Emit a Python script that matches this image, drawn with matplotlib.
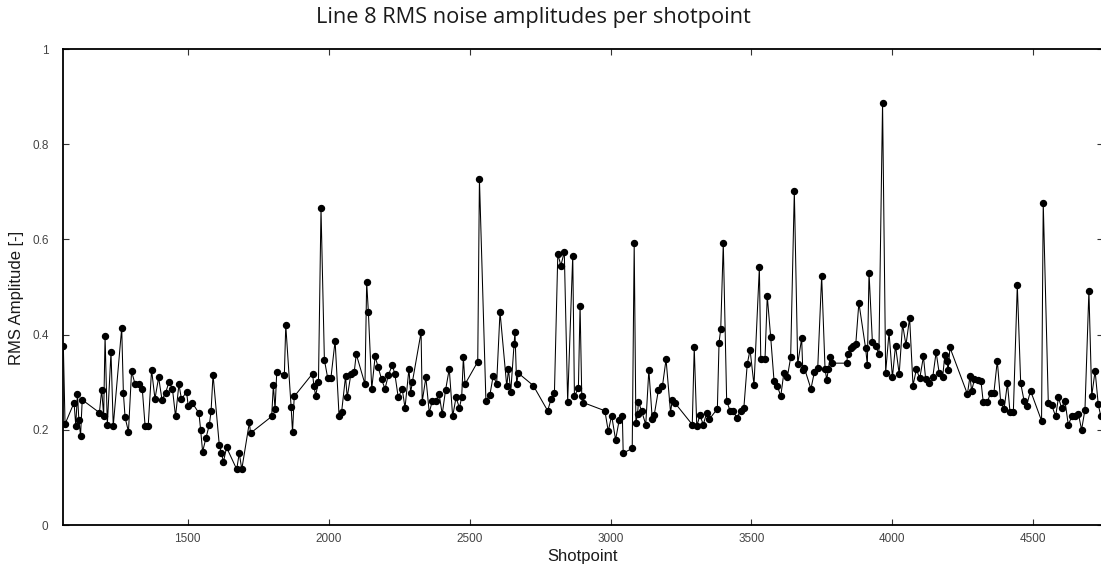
import matplotlib
matplotlib.use("Agg")
import matplotlib.pyplot as plt

# ---- data ----
shotpoints = [
    1059, 1065, 1097, 1103, 1109, 1114, 1120, 1126, 1187, 1195, 1202, 1207, 1215, 1228, 1236,
    1266, 1272, 1278, 1290, 1301, 1313, 1327, 1339, 1349, 1360, 1372, 1384, 1397, 1409, 1422,
    1434, 1446, 1457, 1469, 1478, 1496, 1502, 1517, 1540, 1546, 1553, 1565, 1577, 1583, 1590,
    1612, 1619, 1627, 1638, 1674, 1683, 1692, 1719, 1723, 1798, 1804, 1810, 1816, 1843, 1848,
    1867, 1872, 1878, 1943, 1948, 1954, 1964, 1973,
    1985, 1997, 2008, 2023, 2037, 2046, 2060, 2066, 2079, 2091, 2098, 2129, 2135, 2141, 2153,
    2165, 2176, 2188, 2200, 2212, 2226, 2235, 2247, 2261, 2271, 2285, 2291, 2297, 2328, 2332,
    2345, 2357, 2368, 2380, 2392, 2403, 2415, 2428, 2440, 2452, 2464, 2472, 2478, 2484, 2529,
    2535, 2558, 2572, 2584, 2596, 2608, 2632, 2638, 2646, 2658, 2661, 2667, 2673, 2726, 2777,
    2789, 2801, 2813, 2824, 2836, 2848, 2866, 2872, 2886, 2892, 2898, 2904,
    2980, 2992, 3004, 3018, 3031, 3042, 3045, 3077, 3084, 3090, 3096, 3099, 3110, 3125, 3136,
    3148, 3155, 3170, 3184, 3197, 3213, 3219, 3229, 3290, 3297, 3306, 3317, 3329, 3341, 3350,
    3379, 3385, 3391, 3400, 3412, 3424, 3436, 3447, 3462, 3473, 3485, 3495, 3509, 3528, 3533,
    3548, 3556, 3568, 3580, 3592, 3604, 3615, 3627, 3639, 3652, 3664, 3678, 3682, 3688, 3711,
    3723, 3735, 3749, 3761, 3767, 3773, 3779, 3784,
    3838, 3841, 3853, 3861, 3870, 3881, 3905, 3911, 3917, 3929, 3941, 3952, 3965, 3976, 3988,
    4000, 4011, 4024, 4036, 4048, 4061, 4073, 4085, 4097, 4110, 4118, 4131, 4143, 4155, 4166,
    4178, 4186, 4192, 4198, 4204, 4266, 4275, 4281, 4291, 4302, 4314, 4322, 4337, 4348, 4360,
    4372, 4384, 4396, 4408, 4417, 4429, 4443, 4455, 4467, 4476, 4490, 4529, 4535, 4553, 4565,
    4579, 4589, 4600, 4612, 4624, 4636, 4648, 4660, 4671, 4683, 4697, 4707, 4719, 4730, 4739,
]

rms_amplitude = [
    0.376, 0.212, 0.257, 0.209, 0.276, 0.221, 0.188, 0.263, 0.236, 0.284, 0.230, 0.397, 0.210, 0.363, 0.208,
    0.414, 0.277, 0.226, 0.196, 0.323, 0.297, 0.297, 0.286, 0.208, 0.208, 0.326, 0.265, 0.310, 0.263, 0.278,
    0.301, 0.286, 0.228, 0.296, 0.264, 0.280, 0.250, 0.256, 0.235, 0.200, 0.154, 0.183, 0.211, 0.239, 0.316,
    0.169, 0.152, 0.133, 0.163, 0.117, 0.151, 0.117, 0.216, 0.193, 0.228, 0.294, 0.243, 0.321, 0.316, 0.420,
    0.248, 0.195, 0.270, 0.318, 0.291, 0.272, 0.301, 0.665,
    0.347, 0.308, 0.308, 0.387, 0.230, 0.237, 0.312, 0.268, 0.317, 0.322, 0.359, 0.296, 0.510, 0.448, 0.286,
    0.354, 0.331, 0.306, 0.286, 0.315, 0.336, 0.317, 0.268, 0.286, 0.246, 0.328, 0.278, 0.300, 0.405, 0.259,
    0.310, 0.236, 0.261, 0.261, 0.275, 0.233, 0.284, 0.328, 0.228, 0.268, 0.246, 0.268, 0.352, 0.296, 0.343,
    0.727, 0.261, 0.273, 0.314, 0.296, 0.448, 0.291, 0.328, 0.279, 0.380, 0.406, 0.296, 0.319, 0.293, 0.240,
    0.264, 0.277, 0.569, 0.545, 0.574, 0.259, 0.566, 0.271, 0.287, 0.461, 0.271, 0.257,
    0.240, 0.197, 0.230, 0.179, 0.221, 0.228, 0.151, 0.161, 0.592, 0.214, 0.233, 0.259, 0.240, 0.211, 0.326,
    0.223, 0.231, 0.284, 0.291, 0.348, 0.236, 0.263, 0.256, 0.211, 0.373, 0.207, 0.231, 0.211, 0.235, 0.222,
    0.244, 0.383, 0.412, 0.592, 0.261, 0.240, 0.240, 0.225, 0.240, 0.246, 0.338, 0.368, 0.294, 0.541, 0.349,
    0.348, 0.481, 0.396, 0.303, 0.291, 0.271, 0.320, 0.310, 0.352, 0.702, 0.338, 0.392, 0.326, 0.329, 0.286,
    0.321, 0.329, 0.523, 0.328, 0.305, 0.328, 0.352, 0.340,
    0.340, 0.359, 0.371, 0.376, 0.380, 0.467, 0.371, 0.336, 0.530, 0.384, 0.376, 0.359, 0.886, 0.320, 0.405,
    0.310, 0.377, 0.317, 0.422, 0.378, 0.435, 0.293, 0.327, 0.308, 0.354, 0.306, 0.298, 0.310, 0.363, 0.319,
    0.310, 0.357, 0.345, 0.326, 0.373, 0.275, 0.312, 0.282, 0.306, 0.305, 0.303, 0.259, 0.258, 0.278, 0.278,
    0.345, 0.259, 0.243, 0.298, 0.238, 0.238, 0.504, 0.298, 0.261, 0.251, 0.282, 0.219, 0.677, 0.256, 0.252,
    0.228, 0.268, 0.246, 0.261, 0.210, 0.228, 0.228, 0.233, 0.200, 0.242, 0.492, 0.271, 0.324, 0.254, 0.229,
]

x_ticks = [1500, 2000, 2500, 3000, 3500, 4000, 4500]
y_ticks = [0, 0.2, 0.4, 0.6, 0.8, 1]
y_tick_labels = ["0", "0.2", "0.4", "0.6", "0.8", "1"]

title_text = "Line 8 RMS noise amplitudes per shotpoint"
x_label = "Shotpoint"
y_label = "RMS Amplitude [-]"

# ---- figure ----
W, H = 1101, 569
fig = plt.figure(figsize=(W / 100, H / 100), dpi=100)
fig.patch.set_facecolor("white")

ax = fig.add_axes([62.5 / W, 44 / H, 1040.5 / W, 476 / H])
ax.plot(shotpoints, rms_amplitude, color="black", lw=0.75,
        marker="o", ms=4.3, mfc="black", mec="black", zorder=3)
ax.set_xlim(1056, 4747)
ax.set_ylim(0, 1)
ax.set_xticks(x_ticks)
ax.set_xticklabels([str(t) for t in x_ticks])
ax.set_yticks(y_ticks)
ax.set_yticklabels(y_tick_labels)

for lab in ax.get_xticklabels() + ax.get_yticklabels():
    lab.set_family("Liberation Sans")

ax.tick_params(direction="in", top=True, right=True, length=4, width=0.8,
               labelsize=8.5, labelcolor="#444444", color="#333333")
ax.tick_params(axis="y", pad=10)
ax.tick_params(axis="x", pad=6)
for s in ax.spines.values():
    s.set_linewidth(1.3)
    s.set_color("black")

t = fig.text(533 / W, 1 - 18 / H, title_text, ha="center", va="center",
             fontsize=13, family="Open Sans", color="#1a1a1a")
fig.canvas.draw()
bb = t.get_window_extent()
t.set_fontsize(13 * 430.0 / bb.width)

fig.text(583 / W, 1 - 557 / H, x_label, ha="center", va="center",
         fontsize=12, family="Liberation Sans", color="#1a1a1a")
fig.text(17 / W, 1 - 298 / H, y_label, ha="center", va="center", rotation=90,
         fontsize=12, family="Liberation Sans", color="#1a1a1a")

fig.savefig("out.png", dpi=100, facecolor="white")
